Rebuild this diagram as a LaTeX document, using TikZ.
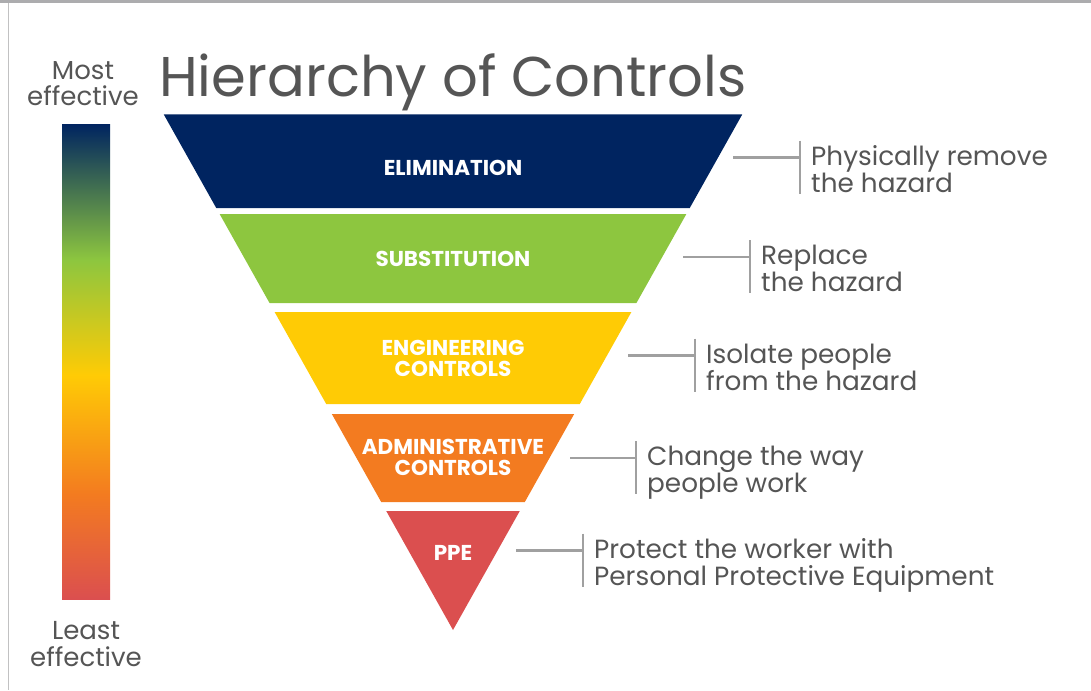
\documentclass[tikz,border=0pt]{standalone}
\usepackage{fontspec}
\setmainfont{Poppins}
\usetikzlibrary{calc}
\definecolor{elimblue}{RGB}{0,36,96}
\definecolor{substgreen}{RGB}{141,198,63}
\definecolor{engyellow}{RGB}{255,203,5}
\definecolor{adminorange}{RGB}{243,123,32}
\definecolor{ppered}{RGB}{219,79,79}
\definecolor{textgray}{RGB}{85,85,85}
\definecolor{linegray}{RGB}{160,160,160}
\definecolor{framegray}{RGB}{172,172,174}
\pgfdeclareverticalshading{effectbar}{100bp}{color(0bp)=(ppered); color(25bp)=(ppered); color(36bp)=(adminorange); color(48.6bp)=(engyellow); color(60.7bp)=(substgreen); color(75bp)=(elimblue); color(100bp)=(elimblue)}
\tikzset{
    leveltext/.style={text=white, font=\fontsize{21.5}{21}\selectfont\bfseries, align=center, inner sep=0pt},
    notetext/.style={text=textgray, font=\fontsize{26.3}{27}\selectfont, align=left, anchor=base west, inner sep=0pt},
    sidetext/.style={text=textgray, font=\fontsize{26}{26.5}\selectfont, align=center, anchor=base, inner sep=0pt},
    bracket/.style={draw=linegray, line width=2.5pt},
}
% one slice of the inverted triangle: name, top y, bottom y, colour, label y, label
\newcommand{\drawlevel}[6]{
    \fill [#4] ({453-0.561*(630-#2)},#2) -- ({453+0.561*(630-#2)},#2) -- ({453+0.561*(630-#3)},#3) -- ({453-0.561*(630-#3)},#3) -- cycle;
    \node [leveltext] (#1) at (453,#5) {#6};
}
% bracket with its note: name, line start x, bracket x, y, text (base = last line)
\newcommand{\drawnote}[5]{
    \coordinate (#1-from) at (#2,#4);
    \coordinate (#1-top) at (#3,{#4-17});
    \coordinate (#1-bot) at (#3,{#4+36});
    \node [notetext] (#1) at ({#3+11},{#4+34.5}) {#5};
    \draw [bracket] (#1-from) -- (#1-from -| #1-top);
    \draw [bracket] (#1-top) -- (#1-bot);
}
\begin{document}
\begin{tikzpicture}[x=1pt, y=-1pt]
    \useasboundingbox (0,0) rectangle (1091,690);
    % frame
    \fill [framegray] (0,0) rectangle (1091,3.3);
    \draw [draw=framegray!75, line width=1.5pt] (8.5,3) -- (8.5,690);
    % effectiveness bar
    \shade [shading=effectbar] (62,124) rectangle (110,599);
    \node [sidetext] (most) at (83,106) {Most\\effective};
    \node [sidetext] (least) at (86,666) {Least\\effective};
    % title
    \node [text=textgray, font=\fontsize{56}{60}\selectfont, anchor=base west, inner sep=0pt] (title) at (159,97) {Hierarchy of Controls};
    % levels
    \drawlevel{elim}{114.5}{208}{elimblue}{167.5}{ELIMINATION}
    \drawlevel{subst}{214}{303}{substgreen}{259}{SUBSTITUTION}
    \drawlevel{eng}{312}{404}{engyellow}{358}{ENGINEERING\\CONTROLS}
    \drawlevel{admin}{414}{502}{adminorange}{457}{ADMINISTRATIVE\\CONTROLS}
    \drawlevel{ppe}{511}{630}{ppered}{552.5}{PPE}
    % notes
    \drawnote{remove}{733}{800}{157.5}{Physically remove\\the hazard}
    \drawnote{replace}{683}{750}{257}{Replace\\the hazard}
    \drawnote{isolate}{628}{695}{355.7}{Isolate people\\from the hazard}
    \drawnote{change}{570}{636}{458}{Change the way\\people work}
    \drawnote{protect}{516}{583}{550.7}{Protect the worker with\\Personal Protective Equipment}
\end{tikzpicture}
\end{document}
